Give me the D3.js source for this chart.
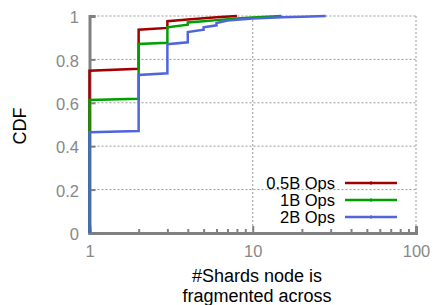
<html>
<head>
<style>
  body { margin: 0; background: #fff; }
  svg { font-family: "Liberation Sans", Arial, sans-serif; }
</style>
</head>
<body>
<script src="https://d3js.org/d3.v7.min.js"></script>
<script>
const seriesNames = ["0.5B Ops", "1B Ops", "2B Ops"];
const seriesColors = ["#a00000", "#00a000", "#5064dc"];

const shards05 = [1, 1, 2, 2, 3, 3, 4, 5, 6, 8];
const cdf05    = [0, 0.748, 0.757, 0.937, 0.945, 0.976, 0.984, 0.99, 0.994, 1];

const shards1 = [1, 1, 2, 2, 3, 3, 4, 4, 5, 6, 8, 10, 15];
const cdf1    = [0, 0.613, 0.619, 0.871, 0.877, 0.948, 0.96, 0.97, 0.976, 0.981, 0.988, 0.993, 1];

const shards2 = [1, 1, 2, 2, 3, 3, 4, 4, 5, 5, 6, 6, 7, 8, 10, 15, 20, 28];
const cdf2    = [0, 0.464, 0.47, 0.728, 0.736, 0.87, 0.879, 0.926, 0.937, 0.948, 0.957, 0.968, 0.979, 0.983, 0.988, 0.994, 0.997, 1];

const yTicks = [0, 0.2, 0.4, 0.6, 0.8, 1];
const xTicks = [1, 10, 100];
const xTitle = ["#Shards node is", "fragmented across"];

const allX = [shards05, shards1, shards2];
const allY = [cdf05, cdf1, cdf2];

const width = 433, height = 305;
const pLeft = 89.5, pRight = 416, pTop = 16, pBottom = 233;

const svg = d3.select("body").append("svg")
    .attr("width", width).attr("height", height);

const x = d3.scaleLog().domain([1, 100]).range([pLeft, pRight]);
const y = d3.scaleLinear().domain([0, 1]).range([pBottom, pTop]);

// grid
svg.append("g").selectAll("line").data(yTicks.slice(1)).enter().append("line")
    .attr("x1", pLeft).attr("x2", pRight)
    .attr("y1", d => y(d)).attr("y2", d => y(d))
    .attr("stroke", "#999").attr("stroke-width", 1).attr("stroke-dasharray", "2,2");
svg.append("g").selectAll("line").data(xTicks.slice(1)).enter().append("line")
    .attr("x1", d => x(d)).attr("x2", d => x(d))
    .attr("y1", pTop).attr("y2", pBottom)
    .attr("stroke", "#999").attr("stroke-width", 1).attr("stroke-dasharray", "2,2");

// axes
const yAxis = svg.append("g").attr("transform", `translate(${pLeft},0)`)
    .call(d3.axisLeft(y).tickValues(yTicks).tickFormat(d3.format("")).tickSize(-6).tickPadding(10.5));
const minor = d3.range(2, 10).concat(d3.range(20, 100, 10));
svg.append("g").attr("transform", `translate(0,${pBottom})`)
    .call(d3.axisBottom(x).tickValues(minor).tickSize(-4).tickFormat(""));
const xAxis = svg.append("g").attr("transform", `translate(0,${pBottom})`)
    .call(d3.axisBottom(x).tickValues(xTicks).tickFormat(d3.format("d")).tickSize(-7).tickPadding(12));

svg.selectAll(".domain").attr("stroke", "#808080").attr("stroke-width", 3);
svg.selectAll(".tick line").attr("stroke", "#808080").attr("stroke-width", 2);
svg.selectAll(".tick text").attr("fill", "#888").attr("font-size", 16.5)
    .attr("font-family", "Liberation Sans, Arial, sans-serif");
yAxis.selectAll(".tick text").attr("dy", "0.4em");

// lines
const line = d3.line().x(d => x(d[0])).y(d => y(d[1]));
allX.forEach((xs, i) => {
  const pts = xs.map((v, j) => [v, allY[i][j]]);
  svg.append("path").datum(pts)
      .attr("d", line).attr("fill", "none")
      .attr("stroke", seriesColors[i]).attr("stroke-width", 2.5);
});

// legend
const legend = svg.append("g");
seriesNames.forEach((name, i) => {
  const ly = 183 + i * 17;
  legend.append("text").attr("x", 335).attr("y", ly + 5.5)
      .attr("text-anchor", "end").attr("font-size", 16.5).attr("fill", "#000").text(name);
  legend.append("line").attr("x1", 345).attr("x2", 397).attr("y1", ly).attr("y2", ly)
      .attr("stroke", seriesColors[i]).attr("stroke-width", 2.5);
  legend.append("line").attr("x1", 371).attr("x2", 371).attr("y1", ly - 2).attr("y2", ly + 2)
      .attr("stroke", seriesColors[i]).attr("stroke-width", 1);
});

// titles
svg.append("text").attr("transform", "translate(26,126) rotate(-90)")
    .attr("text-anchor", "middle").attr("font-size", 18).text("CDF");
xTitle.forEach((t, i) => {
  svg.append("text").attr("x", 257).attr("y", 281.5 + i * 20.5)
      .attr("text-anchor", "middle").attr("font-size", 18).text(t);
});
</script>
</body>
</html>
